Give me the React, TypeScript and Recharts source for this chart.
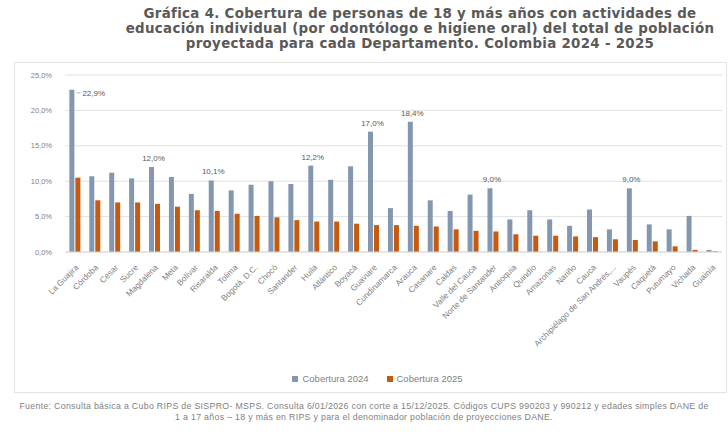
import React from 'react';
import { BarChart, Bar, XAxis, YAxis, CartesianGrid, Legend, LabelList } from 'recharts';

const departamentos = [
  'La Guajira', 'Córdoba', 'Cesar', 'Sucre', 'Magdalena', 'Meta', 'Bolívar', 'Risaralda',
  'Tolima', 'Bogotá, D.C.', 'Chocó', 'Santander', 'Huila', 'Atlántico', 'Boyacá', 'Guaviare',
  'Cundinamarca', 'Arauca', 'Casanare', 'Caldas', 'Valle del Cauca', 'Norte de Santander',
  'Antioquia', 'Quindío', 'Amazonas', 'Nariño', 'Cauca', 'Archipiélago de San Andrés,...',
  'Vaupés', 'Caquetá', 'Putumayo', 'Vichada', 'Guainía',
];

const cobertura2024 = [
  22.9, 10.7, 11.2, 10.4, 12.0, 10.6, 8.2, 10.1,
  8.7, 9.5, 10.0, 9.6, 12.2, 10.2, 12.1, 17.0,
  6.2, 18.4, 7.3, 5.8, 8.1, 9.0,
  4.6, 5.9, 4.6, 3.7, 6.0, 3.2,
  9.0, 3.9, 3.2, 5.1, 0.3,
];

const cobertura2025 = [
  10.5, 7.3, 7.0, 7.0, 6.8, 6.4, 5.9, 5.8,
  5.4, 5.1, 4.9, 4.5, 4.3, 4.3, 4.0, 3.8,
  3.8, 3.7, 3.6, 3.2, 3.0, 2.9,
  2.5, 2.3, 2.3, 2.2, 2.1, 1.8,
  1.7, 1.5, 0.8, 0.3, 0.1,
];

// only some bars carry a value label in the original
const etiquetas2024 = [
  true, false, false, false, true, false, false, true,
  false, false, false, false, true, false, false, true,
  false, true, false, false, false, true,
  false, false, false, false, false, false,
  true, false, false, false, false,
];

const yTicks = [0, 5, 10, 15, 20, 25];

const data = departamentos.map((name, i) => ({
  name,
  c2024: cobertura2024[i],
  c2025: cobertura2025[i],
}));

const fmt = (v: number) => `${v.toFixed(1).replace('.', ',')}%`;

const AXIS_TEXT = '#7f7f7f';

const RotatedTick = ({ x, y, payload }: any) => (
  <text
    x={x + 4}
    y={y + 8}
    transform={`rotate(-45, ${x + 4}, ${y + 8})`}
    textAnchor="end"
    fontSize={8.3}
    fill={AXIS_TEXT}
    fontFamily="Liberation Sans, Arial, sans-serif"
  >
    {payload.value}
  </text>
);

const ValueLabel = (props: any) => {
  const { x, y, width, value, index } = props;
  if (!etiquetas2024[index]) return null;
  if (index === 0) {
    const lx = x + width + 2;
    return (
      <g>
        <line x1={lx} y1={y + 3} x2={lx + 4} y2={y + 3} stroke="#a6a6a6" strokeWidth={0.8} />
        <text x={lx + 6} y={y + 6} fontSize={8} fill="#595959" fontFamily="Liberation Sans, Arial, sans-serif">
          {fmt(value)}
        </text>
      </g>
    );
  }
  return (
    <text
      x={x + width / 2 + 2}
      y={y - 6}
      textAnchor="middle"
      fontSize={8}
      fill="#595959"
      fontFamily="Liberation Sans, Arial, sans-serif"
    >
      {fmt(value)}
    </text>
  );
};

export default function App() {
  return (
    <div
      style={{
        position: 'absolute',
        left: 0,
        top: 0,
        width: 728,
        height: 438,
        background: '#fff',
        fontFamily: 'Liberation Sans, Arial, sans-serif',
      }}
    >
      <div
        style={{
          position: 'absolute',
          left: 100,
          width: 640,
          top: 6,
          textAlign: 'center',
          fontFamily: 'DejaVu Sans, sans-serif',
          fontWeight: 'bold',
          fontSize: 13.4,
          letterSpacing: 0.3,
          lineHeight: '15px',
          color: '#595959',
        }}
      >
        Gráfica 4. Cobertura de personas de 18 y más años con actividades de
        <br />
        educación individual (por odontólogo e higiene oral) del total de población
        <br />
        proyectada para cada Departamento. Colombia 2024 - 2025
      </div>

      <div
        style={{
          position: 'absolute',
          left: 14,
          top: 62,
          width: 713,
          height: 331,
          border: '1px solid #e3e3e3',
          boxSizing: 'border-box',
        }}
      >
        <BarChart
          width={711}
          height={329}
          data={data}
          margin={{ top: 12, right: 4, left: 0, bottom: 0 }}
          barGap={1}
          barCategoryGap="22%"
        >
          <CartesianGrid vertical={false} stroke="#d9d9d9" strokeWidth={0.8} />
          <XAxis
            dataKey="name"
            interval={0}
            height={118}
            tick={<RotatedTick />}
            tickLine={false}
            axisLine={{ stroke: '#d9d9d9' }}
          />
          <YAxis
            domain={[0, 25]}
            ticks={yTicks}
            tickFormatter={fmt}
            width={50}
            axisLine={false}
            tickLine={false}
            tick={{ fontSize: 7.5, fill: AXIS_TEXT, dx: -5 }}
          />
          <Legend
            verticalAlign="bottom"
            height={22}
            iconType="square"
            iconSize={6}
            wrapperStyle={{ fontSize: 9.5, color: AXIS_TEXT, bottom: -3, left: 18 }}
            formatter={(v: string) => <span style={{ color: AXIS_TEXT, marginRight: 8 }}>{v}</span>}
          />
          <Bar dataKey="c2024" name="Cobertura 2024" fill="#8497b0" isAnimationActive={false}>
            <LabelList dataKey="c2024" content={<ValueLabel />} />
          </Bar>
          <Bar dataKey="c2025" name="Cobertura 2025" fill="#c55a11" isAnimationActive={false} />
        </BarChart>
      </div>

      <div
        style={{
          position: 'absolute',
          left: 4,
          width: 720,
          top: 401,
          textAlign: 'center',
          fontSize: 8.8,
          lineHeight: '11px',
          color: '#7f7f7f',
          letterSpacing: 0.3,
        }}
      >
        Fuente: Consulta básica a Cubo RIPS de SISPRO- MSPS. Consulta 6/01/2026 con corte a 15/12/2025. Códigos CUPS 990203 y 990212 y edades simples DANE de
        <br />
        1 a 17 años – 18 y más en RIPS y para el denominador población de proyecciones DANE.
      </div>
    </div>
  );
}
